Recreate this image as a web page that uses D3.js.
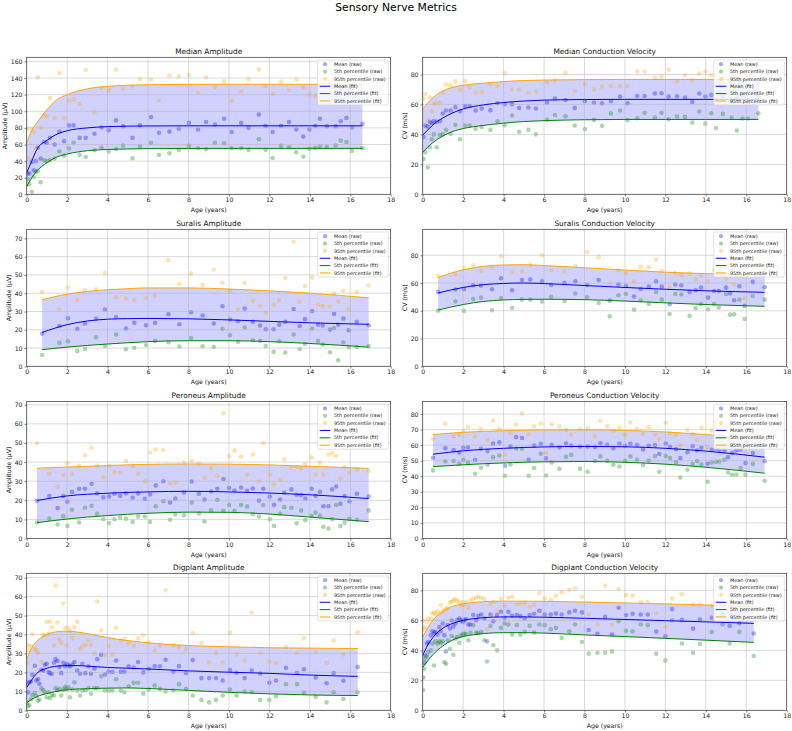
<!DOCTYPE html>
<meta charset="utf-8">
<script src="https://d3js.org/d3.v7.min.js"></script>
<style>
  body { margin: 0; background: #fff; }
  text { font-family: "DejaVu Sans", sans-serif; }
</style>
<div id="chart"></div>
<script>

// ---------- data ----------

// Median nerve: age groups (years)
const medianAge = [0.04, 0.13, 0.25, 0.35, 0.45, 0.55, 0.69, 0.86, 0.99, 1.15, 1.38, 1.62, 1.85, 2.09, 2.32, 2.62, 2.92, 3.35, 3.7, 4.05, 4.42, 4.77, 5.23, 5.6, 6.15, 6.54, 7.06, 7.52, 8.02, 8.47, 8.87, 9.31, 9.76, 10.13, 10.61, 10.97, 11.48, 11.81, 12.16, 12.58, 12.97, 13.33, 13.68, 13.98, 14.27, 14.5, 14.84, 15.28, 15.53, 15.81, 16.08, 16.6];
const medianAmpMean = [25, 25, 39, 29, 40, 56, 43, 63, 62, 68, 60, 75.5, 64, 83, 83, 68, 68, 73, 80.5, 77, 89, 82, 68, 83, 93, 74, 75.5, 79, 86, 78, 87, 84, 91, 75, 86, 80, 96, 82.5, 75, 82.5, 87, 78, 69.5, 78, 82.5, 91, 82, 82, 88, 92, 80.5, 85];
const medianAmpP5 = [18.5, 12, 3, 21, 27, 28, 14.5, 41, 40, 41, 43, 51.5, 46.5, 55.5, 62, 47.6, 45, 53, 56, 51.5, 54.5, 58.6, 43.4, 57.5, 62, 47.4, 49.4, 53.5, 58.3, 55.5, 54.3, 62, 61.5, 55.5, 55.5, 53.5, 66.3, 53.5, 43.8, 58.3, 56.7, 50.7, 45.4, 54.7, 55.9, 57.5, 57, 58.7, 64.7, 63, 52.3, 55.5];
const medianAmpP95 = [79, 43, 79, 75, 55.5, 140.7, 80.4, 95.7, 93.7, 115.8, 91.7, 146, 91.7, 113, 114.6, 108.6, 150, 98.5, 128.6, 125, 150, 127, 130, 139, 138, 113, 143, 142, 144, 122.6, 140.7, 129.4, 136, 112.6, 123.8, 138.7, 150.4, 130.6, 120.6, 135.5, 125.8, 138.3, 128.6, 120.2, 118.6, 146.7, 135, 140, 128, 133, 130, 136];
const medianCvMean = [38.3, 45.7, 45.2, 48.4, 47.5, 49, 48.4, 49, 54, 56, 56, 58.2, 55.5, 59, 59, 56, 57.3, 56.2, 60.8, 60.2, 60.2, 57.7, 58, 57.3, 61.3, 64, 63, 57.7, 62.2, 61.3, 60.8, 62.2, 65.3, 60.8, 65.7, 65.7, 67.3, 67.5, 65.3, 65.5, 64.6, 61.7, 67.3, 65.3, 66.4, 63, 65, 62, 64, 66, 63, 65];
const medianCvP5 = [23.6, 28, 18, 31.4, 36.8, 40, 31.4, 39.7, 40, 43, 40.3, 46.4, 36.8, 46, 46, 43.7, 45, 43, 48.8, 46.1, 52.6, 41.7, 43, 40, 49.7, 53, 52.1, 46, 43.5, 49.7, 45.7, 54, 56, 49.5, 50.8, 54.4, 51.3, 54.4, 50.1, 52, 51.7, 47.9, 55.3, 47.2, 54.1, 44.3, 53.7, 51.3, 42.6, 50.6, 50.6, 54.1];
const medianCvP95 = [64.2, 67, 49.2, 64.8, 55.3, 60.4, 60.8, 61.3, 68, 73.3, 72.9, 75.5, 69.7, 75.8, 71.5, 68, 68.2, 73.5, 72.4, 80.9, 70, 70, 68, 68.6, 74.7, 76.4, 80.9, 69, 73.5, 70.2, 72, 72.4, 72.4, 72.4, 82, 82, 78, 78.7, 83.1, 75.5, 79.6, 76.2, 80.7, 82, 79.6, 82, 78, 80, 77, 82, 79, 73.5];
// Median fitted curves (knots)
const medianFitAge = [0, 0.25, 0.5, 1, 1.5, 2, 3, 4, 5, 6, 8, 10, 12, 14, 16.6];
const medianAmpFitMean = [26, 40, 54, 65, 72.5, 76.5, 80, 81.5, 82.1, 82.3, 82.5, 82.5, 82.5, 82.5, 82.5];
const medianAmpFitP5 = [9, 20, 28, 38, 45, 48.5, 52.5, 54, 54.6, 55, 55.2, 55.3, 55.3, 55.3, 55.3];
const medianAmpFitP95 = [62, 77, 86, 102, 114, 120, 127, 130, 131.3, 132, 132.3, 132.5, 132.5, 132.5, 132.5];
const medianCvFitMean = [39.5, 43, 46.3, 51, 54.5, 57, 59.7, 61.3, 62.3, 62.9, 63.3, 63.4, 63.4, 63.4, 63.4];
const medianCvFitP5 = [28, 31.5, 34.5, 39, 42, 43.9, 46, 47.5, 48.6, 49.2, 49.8, 50, 50, 50, 50];
const medianCvFitP95 = [57, 61, 64.5, 69, 71.5, 72.8, 74.2, 75.3, 76, 76.3, 76.6, 76.7, 76.7, 76.7, 76.7];

// Suralis nerve
const suralisAge = [0.76, 1.62, 2.04, 2.5, 2.88, 3.43, 3.87, 4.42, 4.91, 5.32, 5.9, 6.35, 7.01, 7.55, 8.13, 8.7, 9.25, 9.68, 10.05, 10.45, 10.78, 11.18, 11.54, 11.82, 12.21, 12.49, 12.79, 13.2, 13.5, 13.76, 14.11, 14.41, 14.64, 15, 15.2, 15.4, 15.66, 15.92, 16.32, 16.91];
const suralisAmpMean = [17.9, 22.1, 26.3, 20.5, 23.4, 26, 31.1, 27, 20.7, 23.8, 22.5, 23.8, 28.5, 23, 29.6, 27.8, 23.4, 32.9, 25.6, 24.7, 31.6, 24.3, 22.3, 20.3, 20.3, 22.8, 24.3, 31.4, 22.1, 25.8, 30.3, 22.8, 22.3, 20.1, 28.7, 22.8, 26.1, 19.7, 24.3, 22.5];
const suralisAmpP5 = [6.2, 12.8, 13.7, 8.4, 9.5, 15.9, 11.1, 17.4, 9.3, 10.1, 11.7, 13.9, 13.2, 10.8, 15.5, 11, 10.6, 20.5, 17, 13.3, 21.2, 14.3, 13.9, 11.1, 7.9, 13.7, 7.5, 17.4, 9.5, 12.2, 20.7, 13.9, 11.9, 7.7, 21, 3.3, 13.2, 10.6, 10.6, 11.1];
const suralisAmpP95 = [40.8, 31.3, 43.1, 36.2, 41.7, 42, 51.2, 37.8, 37.1, 36.2, 37.5, 38.8, 58.1, 45.1, 50.8, 44.6, 53, 45.7, 40.8, 31.4, 45.7, 35.8, 33.1, 29.4, 33.8, 36.2, 48.3, 68.2, 35.3, 44, 48.6, 33.8, 33.1, 32.7, 39.8, 35.5, 41.3, 31.3, 40.8, 44.2];
const suralisCvMean = [53.6, 55.3, 55.7, 58.4, 58.1, 55.5, 63.4, 54.8, 62.2, 62.5, 61.3, 58.6, 60.1, 61.3, 58.6, 62.2, 47.3, 58.9, 57.9, 50.2, 55.7, 57.4, 61.3, 57.4, 44.7, 58.9, 58.4, 53.6, 54.8, 56.7, 49.5, 54.3, 54.3, 56.7, 52.4, 47.6, 57.7, 43.5, 60.8, 56.9];
const suralisCvP5 = [40.1, 46.8, 39.9, 48.5, 49.5, 40.4, 49.2, 42, 48, 48, 46.6, 50, 47.1, 52.4, 49.7, 45.6, 36, 51.2, 52.1, 40.8, 47.6, 44.9, 53.6, 48, 37.7, 52.1, 51.7, 36.3, 41.8, 44.9, 41.1, 44.9, 42.3, 52.1, 37.2, 37.5, 48, 34.1, 50.7, 48];
const suralisCvP95 = [65.1, 66.1, 70.9, 72.8, 68.7, 71.6, 79.3, 67.7, 68.2, 73, 80, 69.2, 68.2, 72.3, 82.4, 78.8, 58.9, 69.2, 67, 61.3, 71.6, 71.4, 76.9, 68.7, 56.7, 67.3, 65.6, 67, 62.5, 65.1, 61.3, 69.2, 68.5, 63.2, 66, 59.1, 68, 49.2, 72, 70];
const suralisFitAge = [0.76, 2, 3, 4, 5, 6, 8, 10, 12, 14, 16.91];
const suralisAmpFitMean = [18.5, 22.8, 24.8, 25.8, 26.1, 26.2, 26, 25.4, 24.6, 23.8, 23];
const suralisAmpFitP5 = [9.1, 10.5, 11.4, 12.2, 12.9, 13.5, 14, 14, 13.5, 12.5, 10.5];
const suralisAmpFitP95 = [36.5, 39.5, 41, 41.9, 42.5, 42.9, 42.9, 42.3, 41.3, 40, 37.5];
const suralisCvFitMean = [52.8, 56.8, 58.8, 59.7, 60, 59.6, 58.2, 56.8, 55.5, 54.4, 53.3];
const suralisCvFitP5 = [40.5, 44.5, 46.7, 47.8, 48.2, 48.3, 48, 47, 45.7, 44.5, 43.2];
const suralisCvFitP95 = [64, 69.5, 72, 73, 73.2, 72.6, 71, 69.3, 67.8, 66.8, 66];

// Peroneus nerve
const peroneusAge = [0.51, 1.12, 1.53, 1.81, 2.01, 2.24, 2.59, 2.88, 3.21, 3.48, 3.79, 4.07, 4.34, 4.62, 4.91, 5.24, 5.51, 5.84, 6.1, 6.38, 6.76, 7.09, 7.35, 7.78, 8.16, 8.52, 8.79, 9.12, 9.43, 9.73, 10.01, 10.27, 10.6, 10.9, 11.18, 11.49, 11.7, 12.02, 12.23, 12.53, 12.74, 13.09, 13.35, 13.57, 13.78, 14.09, 14.29, 14.5, 14.67, 14.92, 15.1, 15.3, 15.51, 15.72, 15.96, 16.33, 16.91];
const peroneusAmpMean = [19.7, 22.2, 15.9, 22.2, 19.2, 24.4, 26, 26, 28.6, 23.6, 21.5, 22, 23.4, 22.3, 23.7, 21.3, 23.6, 20.8, 23, 27.8, 30, 18.9, 20.9, 24.1, 29.8, 23.4, 20.4, 24.6, 26, 31.1, 26.4, 25.1, 26.7, 25, 26.2, 19.9, 26, 22, 17.6, 20.4, 24.1, 25.7, 22.9, 22.7, 20.9, 26, 22.3, 24.4, 16.9, 16.9, 25.7, 27.2, 18.2, 22.2, 19.5, 23.4, 22];
const peroneusAmpP5 = [8.4, 10.5, 7.3, 11.7, 6.6, 15, 8.4, 16.1, 17.1, 12.9, 10.1, 8, 10.1, 11, 10.3, 8.7, 11.5, 11.5, 8.7, 16.9, 19.5, 9.8, 12.6, 12.2, 18.9, 13.1, 8.9, 14.7, 20.2, 14.5, 17.5, 14.5, 17.5, 16.8, 12.7, 11.5, 17.5, 10.1, 6.6, 12.9, 16.4, 16.1, 8, 14.7, 9.6, 11.9, 13.6, 11.9, 6.1, 5.2, 10.1, 17.5, 6.5, 8.2, 10.3, 9.8, 14.7];
const peroneusAmpP95 = [49.9, 34, 26.9, 33.3, 39.4, 33.9, 38, 43.6, 47.5, 38, 32.1, 38, 34.7, 34.4, 40.5, 38, 34, 29.8, 45, 46.6, 46.3, 28.8, 29.1, 39.6, 40.7, 39.1, 31.8, 36.7, 32.8, 65.5, 43.1, 46.1, 42.8, 33.3, 44, 29.8, 49.9, 33.3, 28.3, 30.9, 41.4, 37.4, 37.4, 36.7, 38.8, 42.4, 33.5, 39.6, 33.5, 43.8, 44.7, 43.3, 31.4, 37.5, 34.4, 36, 35.3];
const peroneusCvMean = [51.9, 58.1, 56.8, 55.3, 58.3, 58.6, 50.6, 57.7, 56.2, 61.1, 61.8, 46.8, 59.2, 65.2, 64.6, 50.6, 59.8, 60.9, 51.5, 60.3, 58.6, 61.1, 59.8, 59.2, 59.2, 58.8, 61.3, 60.3, 58.1, 60.9, 59.6, 60.9, 60.1, 57.3, 59.6, 60.1, 54.3, 61.1, 59, 57.5, 51.7, 55.5, 59.4, 56.6, 58.3, 48, 57, 57.7, 57, 56.6, 52.3, 54.9, 56.6, 57.3, 48.5, 55, 49.8];
const peroneusCvP5 = [43.8, 49.5, 49.8, 48, 50.6, 48.9, 41.6, 45.5, 47.4, 52.3, 53.4, 40.3, 47.6, 57.9, 57.7, 40.3, 45.3, 54.5, 40.5, 48.9, 44.8, 52.5, 53.8, 44.8, 42.9, 49.8, 52.8, 50, 47.4, 46.3, 50, 52.8, 50.6, 47.2, 50.2, 53, 42.9, 53, 51.7, 49.1, 39.2, 44.2, 48, 49.8, 47.6, 36.5, 48.9, 49.3, 49.5, 50.6, 42.5, 41, 41.2, 45.3, 41.2, 48, 37.1];
const peroneusCvP95 = [63.9, 74, 65.6, 66.5, 68.8, 71.6, 65.6, 70.6, 63.3, 75.9, 70.6, 54, 67.8, 73.4, 80.4, 66.9, 72.1, 74, 55.1, 73.4, 72.1, 69.9, 66.7, 70.3, 70.8, 65.6, 75.7, 72.1, 69.3, 71, 66.5, 74.6, 70.6, 67.3, 71.6, 66.7, 64.1, 74.4, 67.6, 66.7, 59.8, 69.7, 67.1, 63.5, 71.4, 58.6, 69.5, 75.5, 67, 71, 65, 69, 66, 62, 54.5, 68, 66];
const peroneusFitAge = [0.51, 2, 4, 6, 8, 10, 12, 14, 16.91];
const peroneusAmpFitMean = [19.9, 22.3, 23.7, 24.4, 24.7, 24.4, 23.8, 22.9, 20.9];
const peroneusAmpFitP5 = [8.3, 10.2, 12, 13.2, 13.8, 13.7, 12.8, 11.2, 8.8];
const peroneusAmpFitP95 = [36.8, 37.4, 38.2, 38.8, 39, 38.9, 38.5, 37.8, 36.7];
const peroneusCvFitMean = [54.2, 56.4, 58, 58.9, 59.2, 59, 58, 56.2, 52.3];
const peroneusCvFitP5 = [46.2, 47.4, 48.6, 49.3, 49.5, 49, 47.8, 45.8, 42];
const peroneusCvFitP95 = [66.8, 68.3, 69.3, 69.8, 69.9, 69.5, 68.5, 66.8, 64];

// Digplant nerve
const digplantAge = [0.02, 0.07, 0.13, 0.21, 0.28, 0.4, 0.48, 0.56, 0.63, 0.73, 0.82, 0.89, 0.99, 1.07, 1.15, 1.24, 1.35, 1.43, 1.52, 1.62, 1.71, 1.81, 1.9, 1.98, 2.06, 2.14, 2.26, 2.36, 2.5, 2.64, 2.75, 2.9, 3.05, 3.18, 3.35, 3.49, 3.68, 3.87, 4.05, 4.24, 4.42, 4.65, 4.83, 5.04, 5.29, 5.51, 5.77, 6.03, 6.33, 6.59, 6.87, 7.25, 7.53, 7.88, 8.21, 8.64, 9.02, 9.36, 9.69, 10.05, 10.38, 10.78, 11.13, 11.55, 12, 12.33, 12.82, 13.37, 13.71, 14.29, 14.83, 15.18, 15.66, 16.37];
const digplantAmpMean = [14.3, 9.5, 14.8, 15.2, 18.7, 23.5, 15.7, 16.4, 14, 21.4, 21, 24, 24.6, 20.2, 19.6, 19.3, 25.1, 27, 26, 22.8, 19.6, 25.1, 23.3, 24.4, 23.7, 23.2, 24.2, 25.5, 21, 19.3, 24.6, 19.6, 23.2, 19.3, 21.9, 27, 29.3, 18.9, 20.5, 20.2, 26.3, 20.3, 20.3, 23.2, 22.6, 25.5, 20, 21.9, 23.3, 23.2, 26.7, 20.3, 23.3, 19.6, 26.5, 17, 17, 17, 15.7, 21.2, 19.8, 17, 21, 19.4, 14.5, 15.7, 22.4, 19.8, 21.7, 17.3, 14.3, 19.6, 15.6, 22.8];
const digplantAmpP5 = [4.2, 2.1, 2.8, 5.7, 8.1, 9.2, 7.4, 5, 5.7, 11.7, 10.6, 9.5, 6.9, 9.5, 6.4, 8.1, 7.8, 11.7, 10.6, 11.3, 7.8, 11, 12.4, 11.3, 12.2, 6.9, 11, 14.8, 10.4, 7.8, 10.4, 10.6, 11.7, 8.7, 11.7, 11.7, 18, 10.4, 10.4, 10.4, 16.4, 10.4, 9.5, 12.7, 14.5, 14.5, 8.7, 11, 13.1, 11.3, 9.9, 10.4, 13.8, 11.3, 7.8, 5.5, 4.2, 5.5, 7.8, 11, 7.8, 9.9, 9.5, 5.5, 5.5, 7.4, 13.8, 13.8, 9.2, 7.1, 4.2, 9.5, 6, 9.5];
const digplantAmpP95 = [25.1, 34.3, 31.6, 33.9, 40, 32.5, 31.6, 30.2, 20.5, 25.5, 39.6, 39.6, 46.7, 40.3, 46.7, 43.8, 34.3, 65.8, 46.3, 37.5, 35.7, 56.4, 43.5, 34.3, 43.5, 41.7, 38.2, 44, 46.7, 32.2, 33.9, 34.3, 36.9, 34.6, 29.9, 57.4, 42.2, 29, 33.9, 29.3, 43.5, 36.8, 37.8, 35.4, 33.9, 37.8, 39.6, 35.7, 31.6, 33.9, 63.3, 34.3, 33.4, 32.2, 40.7, 35.5, 25.1, 30.4, 25.1, 41, 29.5, 26.3, 51.6, 30.2, 25.8, 24.9, 33.4, 30.2, 38, 30.8, 25.1, 36.9, 29.5, 41.2];
const digplantCvMean = [21.9, 31.7, 36.6, 44.5, 45.6, 50, 52.7, 51.4, 52.3, 50.5, 55.6, 52.7, 57.9, 50, 39.3, 56.8, 54.5, 59.9, 55.9, 57.9, 60.1, 61.2, 60.1, 59, 60.1, 60.8, 57.2, 57.2, 63.5, 60.1, 63, 63.9, 61.2, 46, 63.9, 59.4, 63.5, 65.7, 61.7, 65.7, 63, 63.5, 62.8, 61.2, 63.5, 64.4, 66.4, 63.9, 63.9, 64.6, 63.9, 65.3, 66.4, 65.3, 53.6, 51, 62.3, 50.5, 68.4, 63.5, 64.4, 63.9, 63.9, 52.5, 49.4, 67.5, 60.3, 54.5, 60.6, 61.7, 63.5, 56.3, 58, 51.2];
const digplantCvP5 = [13.4, 27.7, 34.4, 36.2, 38.9, 40, 44.5, 29.9, 46, 44.5, 46, 45.1, 46, 32.2, 31, 46.5, 41.1, 49.6, 37.1, 47.7, 48.9, 45.1, 50, 50.5, 51.2, 50.9, 46.7, 51.8, 56.8, 51.8, 51.4, 52.3, 46.7, 32.6, 56.3, 43.4, 40, 55, 57.9, 57.2, 50.5, 56.8, 50.5, 52.3, 56.3, 51.8, 57.2, 56.8, 54.1, 55, 48.3, 52.7, 57.2, 45.6, 37.8, 38.4, 38.4, 39.3, 59.4, 53, 52.7, 57.2, 56.8, 37.8, 33.3, 60.1, 44.5, 38.4, 44.2, 52.3, 57.2, 44.5, 52.3, 36.2];
const digplantCvP95 = [59.9, 54, 55.4, 59, 61.2, 60.8, 64.6, 65.3, 63.9, 66.1, 64.6, 70.2, 66.1, 66.8, 67.5, 68.4, 72, 72.4, 73.5, 74.2, 72.8, 72.4, 70.2, 72, 70.2, 72.4, 68.4, 73.1, 74.6, 75.1, 75.8, 75.1, 74.2, 54.1, 71.3, 72.4, 66.1, 74.6, 69.7, 75.1, 75.8, 70.8, 71.3, 71.7, 69, 70.2, 78.2, 74.6, 73.5, 76.4, 78.7, 80.2, 81.3, 75.8, 64.1, 57.2, 83.1, 57.2, 80.9, 76.9, 76.4, 72, 72.4, 64.6, 55.4, 74.6, 77.5, 70.6, 70.6, 69.7, 72, 70, 71.3, 68];
const digplantFitAge = [0, 0.25, 0.5, 1, 1.5, 2, 2.5, 3, 4, 5, 6, 8, 10, 12, 14, 16.37];
const digplantAmpFitMean = [12, 16, 19.5, 22.2, 23.3, 23.6, 23.6, 23.3, 22.6, 22.2, 21.8, 20.8, 20.1, 19.5, 18.6, 17.9];
const digplantAmpFitP5 = [4, 5.8, 7.2, 8.8, 10, 10.8, 11.2, 11.4, 11.7, 11.8, 11.5, 10.5, 9.5, 8.7, 8.1, 7.8];
const digplantAmpFitP95 = [27, 33, 36.5, 40, 41.5, 41.8, 41.3, 40.5, 38.3, 36.8, 35.6, 34.2, 33.5, 33, 32.8, 32.6];
const digplantCvFitMean = [36.5, 43.5, 48.5, 54.8, 58, 60, 61.1, 61.8, 62.3, 62.3, 62.1, 61.4, 60.6, 59.8, 59, 58];
const digplantCvFitP5 = [28.5, 33, 37, 43, 47, 49.2, 50.4, 51.2, 51.8, 51.8, 51.5, 50.3, 49.2, 48, 46.8, 45.3];
const digplantCvFitP95 = [49, 55, 60, 66, 69.5, 71, 71.9, 72.5, 72.8, 72.8, 72.7, 72.2, 71.6, 71, 70.2, 69.3];

const legendLabels = ["Mean (raw)", "5th percentile (raw)", "95th percentile (raw)", "Mean (fit)", "5th percentile (fit)", "95th percentile (fit)"];
const xTicks = [0, 2, 4, 6, 8, 10, 12, 14, 16, 18];

// panel table built from the arrays above
const panels = [
  { title: "Median Amplitude", ylab: "Amplitude (µV)", age: medianAge, raw: [medianAmpMean, medianAmpP5, medianAmpP95], fitAge: medianFitAge, fit: [medianAmpFitMean, medianAmpFitP5, medianAmpFitP95], yMax: 165, yStep: 20, yTop: 160 },
  { title: "Median Conduction Velocity", ylab: "CV (m/s)", age: medianAge, raw: [medianCvMean, medianCvP5, medianCvP95], fitAge: medianFitAge, fit: [medianCvFitMean, medianCvFitP5, medianCvFitP95], yMax: 91.5, yStep: 20, yTop: 80 },
  { title: "Suralis Amplitude", ylab: "Amplitude (µV)", age: suralisAge, raw: [suralisAmpMean, suralisAmpP5, suralisAmpP95], fitAge: suralisFitAge, fit: [suralisAmpFitMean, suralisAmpFitP5, suralisAmpFitP95], yMax: 75, yStep: 10, yTop: 70 },
  { title: "Suralis Conduction Velocity", ylab: "CV (m/s)", age: suralisAge, raw: [suralisCvMean, suralisCvP5, suralisCvP95], fitAge: suralisFitAge, fit: [suralisCvFitMean, suralisCvFitP5, suralisCvFitP95], yMax: 98.7, yStep: 20, yTop: 80 },
  { title: "Peroneus Amplitude", ylab: "Amplitude (µV)", age: peroneusAge, raw: [peroneusAmpMean, peroneusAmpP5, peroneusAmpP95], fitAge: peroneusFitAge, fit: [peroneusAmpFitMean, peroneusAmpFitP5, peroneusAmpFitP95], yMax: 71.7, yStep: 10, yTop: 70 },
  { title: "Peroneus Conduction Velocity", ylab: "CV (m/s)", age: peroneusAge, raw: [peroneusCvMean, peroneusCvP5, peroneusCvP95], fitAge: peroneusFitAge, fit: [peroneusCvFitMean, peroneusCvFitP5, peroneusCvFitP95], yMax: 88.1, yStep: 10, yTop: 80 },
  { title: "Digplant Amplitude", ylab: "Amplitude (µV)", age: digplantAge, raw: [digplantAmpMean, digplantAmpP5, digplantAmpP95], fitAge: digplantFitAge, fit: [digplantAmpFitMean, digplantAmpFitP5, digplantAmpFitP95], yMax: 72.3, yStep: 10, yTop: 70 },
  { title: "Digplant Conduction Velocity", ylab: "CV (m/s)", age: digplantAge, raw: [digplantCvMean, digplantCvP5, digplantCvP95], fitAge: digplantFitAge, fit: [digplantCvFitMean, digplantCvFitP5, digplantCvFitP95], yMax: 91.4, yStep: 20, yTop: 80 }
];

const colors = ["#0000ff", "#008000", "#ffa500"];

// ---------- layout ----------
const W = 792, H = 731;
const colX = [26.7, 422.7];
const rowY = [57.3, 229.3, 401.5, 573.3];
const pw = 364, ph = 137;

const svg = d3.select("#chart").append("svg")
  .attr("width", W).attr("height", H);

svg.append("text")
  .attr("x", W / 2).attr("y", 11)
  .attr("text-anchor", "middle")
  .style("font-size", "10.8px")
  .attr("fill", "#000")
  .text("Sensory Nerve Metrics");

panels.forEach((p, i) => {
  const g = svg.append("g")
    .attr("transform", `translate(${colX[i % 2]},${rowY[Math.floor(i / 2)]})`);

  const x = d3.scaleLinear().domain([0, 18]).range([0, pw]);
  const y = d3.scaleLinear().domain([0, p.yMax]).range([ph, 0]);
  const yTicks = d3.range(0, p.yTop + 0.01, p.yStep);

  const clipId = "clip" + i;
  g.append("clipPath").attr("id", clipId)
    .append("rect").attr("width", pw).attr("height", ph);
  const plot = g.append("g").attr("clip-path", `url(#${clipId})`);

  // band between 5th and 95th fit
  const bandData = p.fitAge.map((a, k) => ({ a: a, lo: p.fit[1][k], hi: p.fit[2][k] }));
  plot.append("path")
    .datum(bandData)
    .attr("d", d3.area()
      .x(d => x(d.a)).y0(d => y(d.lo)).y1(d => y(d.hi))
      .curve(d3.curveMonotoneX))
    .attr("fill", "#0000ff")
    .attr("fill-opacity", 0.18);

  // raw points
  p.raw.forEach((vals, s) => {
    plot.append("g").selectAll("circle")
      .data(vals.map((v, k) => ({ a: p.age[k], v: v })))
      .join("circle")
        .attr("cx", d => x(d.a))
        .attr("cy", d => y(d.v))
        .attr("r", 2.3)
        .attr("fill", colors[s])
        .attr("fill-opacity", 0.32);
  });

  // grid
  const grid = plot.append("g").attr("stroke", "#b0b0b0").attr("stroke-opacity", 0.6).attr("stroke-width", 0.8);
  grid.selectAll(".gx").data(xTicks).join("line")
    .attr("x1", d => x(d)).attr("x2", d => x(d)).attr("y1", 0).attr("y2", ph);
  grid.selectAll(".gy").data(yTicks).join("line")
    .attr("y1", d => y(d)).attr("y2", d => y(d)).attr("x1", 0).attr("x2", pw);

  // fitted lines
  p.fit.forEach((vals, s) => {
    plot.append("path")
      .datum(vals.map((v, k) => ({ a: p.fitAge[k], v: v })))
      .attr("d", d3.line().x(d => x(d.a)).y(d => y(d.v)).curve(d3.curveMonotoneX))
      .attr("fill", "none")
      .attr("stroke", colors[s])
      .attr("stroke-width", 1);
  });

  // axes
  const xAxis = g.append("g").attr("transform", `translate(0,${ph})`)
    .call(d3.axisBottom(x).tickValues(xTicks).tickSize(2.2).tickPadding(1.6));
  const yAxis = g.append("g")
    .call(d3.axisLeft(y).tickValues(yTicks).tickSize(2.2).tickPadding(2));
  [xAxis, yAxis].forEach(ax => {
    ax.select(".domain").remove();
    ax.selectAll("line").attr("stroke", "#333").attr("stroke-width", 0.6);
    ax.selectAll("text").style("font-size", "6.2px").attr("fill", "#222")
      .style("font-family", "'DejaVu Sans', sans-serif");
  });

  // frame
  g.append("rect").attr("width", pw).attr("height", ph)
    .attr("fill", "none").attr("stroke", "#333").attr("stroke-width", 0.7);

  // titles
  g.append("text").attr("x", pw / 2).attr("y", -3.8)
    .attr("text-anchor", "middle").style("font-size", "7.4px").attr("fill", "#111")
    .text(p.title);
  g.append("text").attr("x", pw / 2).attr("y", ph + 18)
    .attr("text-anchor", "middle").style("font-size", "6.2px").attr("fill", "#111")
    .text("Age (years)");
  const yOff = p.yTop >= 100 ? 19.3 : 16.2;
  g.append("text")
    .attr("transform", `translate(${-yOff},${ph / 2}) rotate(-90)`)
    .attr("text-anchor", "middle").style("font-size", "6.2px").attr("fill", "#111")
    .text(p.ylab);

  // legend
  const lg = g.append("g").attr("transform", `translate(${pw - 73},2.7)`);
  lg.append("rect").attr("width", 70.6).attr("height", 45).attr("rx", 1.5)
    .attr("fill", "#fff").attr("fill-opacity", 0.8)
    .attr("stroke", "#d0d0d0").attr("stroke-width", 0.6);
  legendLabels.forEach((lab, k) => {
    const yy = 4.2 + k * 7.35;
    const c = colors[k % 3];
    if (k < 3) {
      lg.append("circle").attr("cx", 7.3).attr("cy", yy).attr("r", 2.1)
        .attr("fill", c).attr("fill-opacity", 0.35);
    } else {
      lg.append("line").attr("x1", 2).attr("x2", 12.6).attr("y1", yy).attr("y2", yy)
        .attr("stroke", c).attr("stroke-width", 1);
    }
    lg.append("text").attr("x", 16.3).attr("y", yy + 1.7)
      .style("font-size", "4.9px").attr("fill", "#222").text(lab);
  });
});
</script>
